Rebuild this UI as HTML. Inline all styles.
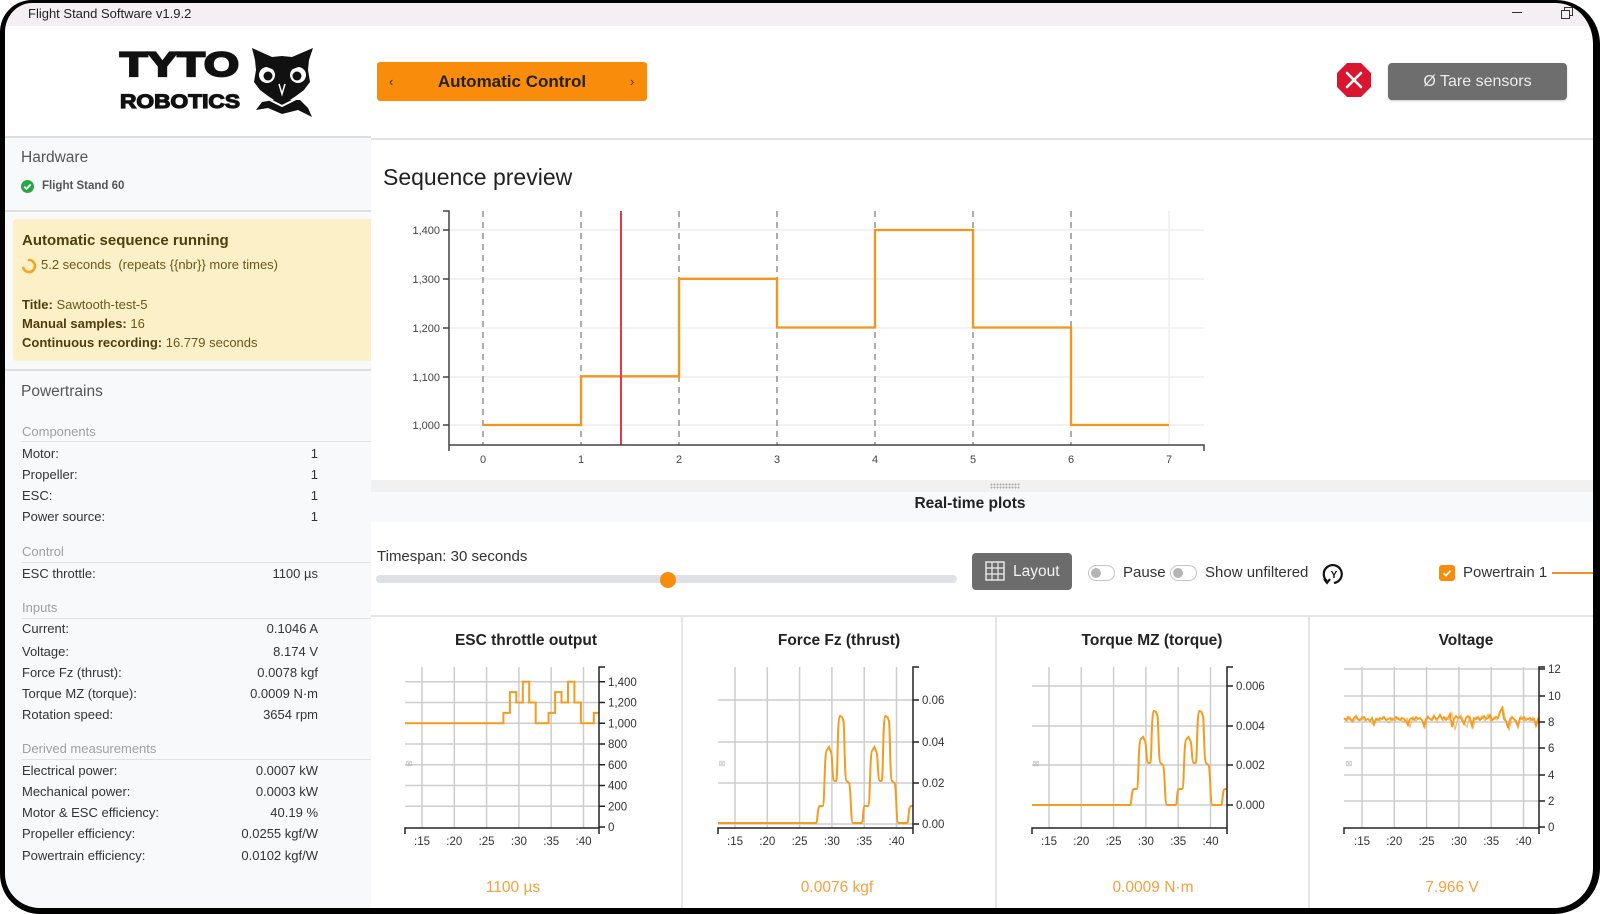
<!DOCTYPE html>
<html>
<head>
<meta charset="utf-8">
<style>
html,body{margin:0;padding:0;background:#fff;}
body{width:1600px;height:914px;overflow:hidden;position:relative;font-family:"Liberation Sans",sans-serif;color:#333;}
.a{position:absolute;white-space:nowrap;}
.t{position:absolute;white-space:nowrap;line-height:20px;height:20px;}
.lbl{left:22px;font-size:13px;color:#333;}
.val{left:180px;width:138px;text-align:right;font-size:13px;color:#333;}
.sub{left:22px;font-size:13px;color:#a0a0a0;}
.hl{position:absolute;left:21px;width:350px;height:1px;background:#e2e2e2;}
#frame{position:absolute;left:0;top:0;width:1600px;height:914px;box-sizing:border-box;border-style:solid;border-color:#000;border-width:3px 7px 6px 5px;border-radius:32px 44px 46px 40px;box-shadow:0 0 0 80px #fff;pointer-events:none;z-index:50;}
</style>
</head>
<body>

<!-- title bar -->
<div class="a" style="left:0;top:0;width:1600px;height:26px;background:#f5eff4;"></div>
<div class="a" style="left:28px;top:3px;line-height:22px;font-size:13px;color:#222;">Flight Stand Software v1.9.2</div>
<div class="a" style="left:1512px;top:12px;width:10px;height:1px;background:#333;"></div>
<div class="a" style="left:1564px;top:7px;width:7px;height:7px;border:1px solid #333;"></div>
<div class="a" style="left:1561px;top:10px;width:7px;height:7px;border:1px solid #333;background:#f5eff4;"></div>

<!-- logo -->
<svg class="a" style="left:0;top:26px;" width="371" height="111" viewBox="0 26 371 111">
  <text x="120" y="76" font-family="Liberation Sans" font-weight="bold" font-size="34" textLength="119" lengthAdjust="spacingAndGlyphs" fill="#111" stroke="#111" stroke-width="2.2">TYTO</text>
  <text x="120" y="108" font-family="Liberation Sans" font-weight="bold" font-size="19.5" textLength="120" lengthAdjust="spacingAndGlyphs" fill="#111" stroke="#111" stroke-width="1.2">ROBOTICS</text>
  <g transform="translate(252,48)">
    <polygon fill="#111" points="0,0 20,9 30,8 40,9 61,0 57,12 56,22 58,34 52,42 44,48 38,52 48,52 56,60 60,69 46,62 30,66 16,60 4,62 10,54 22,52 16,48 8,42 2,34 4,22 3,12"/>
    <circle cx="15" cy="27" r="8" fill="#fff"/>
    <circle cx="46" cy="27" r="8" fill="#fff"/>
    <circle cx="16" cy="28" r="4.5" fill="#111"/>
    <circle cx="45" cy="28" r="4.5" fill="#111"/>
    <polygon fill="#111" points="4,15 28,24 28,14"/>
    <polygon fill="#111" points="57,15 33,24 33,14"/>
    <path d="M27,36 L30,46 L33,36" stroke="#fff" stroke-width="1.5" fill="none"/>
    <path d="M14,50 L30,58 L46,50" stroke="#fff" stroke-width="2" fill="none"/>
  </g>
</svg>

<!-- header buttons -->
<div class="a" style="left:377px;top:62px;width:270px;height:39px;background:#f98c0b;border-radius:3px;"></div>
<div class="a" style="left:377px;top:62px;width:270px;line-height:39px;text-align:center;font-size:17px;font-weight:bold;color:#222;">Automatic Control</div>
<div class="a" style="left:389px;top:62px;line-height:39px;font-size:13px;color:#333;">‹</div>
<div class="a" style="left:630px;top:62px;line-height:39px;font-size:13px;color:#333;">›</div>

<svg class="a" style="left:1330px;top:56px;" width="50" height="50" viewBox="1330 56 50 50">
  <polygon fill="#d9152f" points="1371,73 1371,87 1361,97 1347,97 1337,87 1337,73 1347,63 1361,63"/>
  <path d="M1347,73 L1361,87 M1361,73 L1347,87" stroke="#fff" stroke-width="2.6" stroke-linecap="round"/>
</svg>
<div class="a" style="left:1388px;top:63px;width:179px;height:37px;background:#6e6e6e;border-radius:4px;box-shadow:0 1px 2px rgba(0,0,0,0.2);"></div>
<div class="a" style="left:1388px;top:63px;width:179px;line-height:37px;text-align:center;font-size:16px;color:#ececec;">Ø Tare sensors</div>

<!-- header separators -->
<div class="a" style="left:0;top:136px;width:371px;height:2px;background:#dedede;"></div>
<div class="a" style="left:371px;top:138px;width:1229px;height:2px;background:#e2e2e2;"></div>

<!-- sidebar -->
<div class="a" style="left:0;top:138px;width:371px;height:776px;background:#f8f9fa;"></div>
<div class="t" style="left:21px;top:148px;font-size:15.5px;color:#555;">Hardware</div>
<svg class="a" style="left:20px;top:179px;" width="15" height="15" viewBox="0 0 15 15">
  <circle cx="7.5" cy="7.5" r="6.5" fill="#28a745"/>
  <path d="M4.3,7.6 L6.6,9.8 L10.7,5.5" stroke="#fff" stroke-width="1.8" fill="none"/>
</svg>
<div class="t" style="left:42px;top:176px;font-size:11.5px;font-weight:bold;color:#555;">Flight Stand 60</div>
<div class="a" style="left:5px;top:210px;width:366px;height:2px;background:#dedede;"></div>

<div class="a" style="left:13px;top:219px;width:358px;height:142px;background:#fcf0c8;border-radius:4px 0 0 4px;"></div>
<div class="t" style="left:22px;top:226px;font-size:15px;font-weight:bold;color:#4f3e0d;line-height:30px;height:30px;">Automatic sequence running</div>
<svg class="a" style="left:21px;top:258px;" width="16" height="16" viewBox="0 0 16 16">
  <path d="M8,2 A6,6 0 1 1 2.3,10" stroke="#f5a51d" stroke-width="2.6" fill="none" stroke-linecap="round"/>
</svg>
<div class="t" style="left:41px;top:255px;font-size:13px;color:#6b5719;white-space:pre;">5.2 seconds  (repeats {{nbr}} more times)</div>
<div class="t" style="left:22px;top:295px;font-size:13px;color:#6b5719;"><b style="color:#4f3e0d">Title:</b> Sawtooth-test-5</div>
<div class="t" style="left:22px;top:314px;font-size:13px;color:#6b5719;"><b style="color:#4f3e0d">Manual samples:</b> 16</div>
<div class="t" style="left:22px;top:333px;font-size:13px;color:#6b5719;"><b style="color:#4f3e0d">Continuous recording:</b> 16.779 seconds</div>
<div class="a" style="left:5px;top:369px;width:366px;height:2px;background:#dedede;"></div>

<div class="t" style="left:21px;top:382px;font-size:15.5px;color:#555;">Powertrains</div>

<div class="t sub" style="top:422px;">Components</div>
<div class="hl" style="top:441px;"></div>
<div class="t lbl" style="top:444px;">Motor:</div><div class="t val" style="top:444px;">1</div>
<div class="t lbl" style="top:465px;">Propeller:</div><div class="t val" style="top:465px;">1</div>
<div class="t lbl" style="top:486px;">ESC:</div><div class="t val" style="top:486px;">1</div>
<div class="t lbl" style="top:507px;">Power source:</div><div class="t val" style="top:507px;">1</div>

<div class="t sub" style="top:542px;">Control</div>
<div class="hl" style="top:562px;"></div>
<div class="t lbl" style="top:564px;">ESC throttle:</div><div class="t val" style="top:564px;">1100 µs</div>

<div class="t sub" style="top:598px;">Inputs</div>
<div class="hl" style="top:618px;"></div>
<div class="t lbl" style="top:619px;">Current:</div><div class="t val" style="top:619px;">0.1046 A</div>
<div class="t lbl" style="top:642px;">Voltage:</div><div class="t val" style="top:642px;">8.174 V</div>
<div class="t lbl" style="top:663px;">Force Fz (thrust):</div><div class="t val" style="top:663px;">0.0078 kgf</div>
<div class="t lbl" style="top:684px;">Torque MZ (torque):</div><div class="t val" style="top:684px;">0.0009 N·m</div>
<div class="t lbl" style="top:705px;">Rotation speed:</div><div class="t val" style="top:705px;">3654 rpm</div>

<div class="t sub" style="top:739px;">Derived measurements</div>
<div class="hl" style="top:759px;"></div>
<div class="t lbl" style="top:761px;">Electrical power:</div><div class="t val" style="top:761px;">0.0007 kW</div>
<div class="t lbl" style="top:782px;">Mechanical power:</div><div class="t val" style="top:782px;">0.0003 kW</div>
<div class="t lbl" style="top:803px;">Motor &amp; ESC efficiency:</div><div class="t val" style="top:803px;">40.19 %</div>
<div class="t lbl" style="top:824px;">Propeller efficiency:</div><div class="t val" style="top:824px;">0.0255 kgf/W</div>
<div class="t lbl" style="top:846px;">Powertrain efficiency:</div><div class="t val" style="top:846px;">0.0102 kgf/W</div>

<!-- main -->
<div class="t" style="left:383px;top:162px;font-size:23px;color:#222;line-height:30px;height:30px;">Sequence preview</div>

<!-- real-time band -->
<div class="a" style="left:371px;top:480px;width:1229px;height:12px;background:#f1f1f1;"></div>
<div class="a" style="left:371px;top:492px;width:1229px;height:30px;background:#f8f9fa;"></div>
<div class="a" style="left:990px;top:483px;width:30px;height:6px;background-image:radial-gradient(circle,#aaa 0.9px,transparent 1.1px);background-size:3px 3px;"></div>
<div class="a" style="left:870px;top:494px;width:200px;line-height:20px;text-align:center;font-size:15.5px;font-weight:bold;color:#222;">Real-time plots</div>

<!-- controls row -->
<div class="t" style="left:377px;top:547px;font-size:15px;color:#333;">Timespan: 30 seconds</div>
<div class="a" style="left:376px;top:575px;width:581px;height:8px;background:#dee2e6;border-radius:4px;"></div>
<div class="a" style="left:660px;top:572px;width:16px;height:16px;background:#f98c0b;border-radius:50%;"></div>

<div class="a" style="left:972px;top:553px;width:100px;height:37px;background:#6c6c6c;border-radius:4px;"></div>
<svg class="a" style="left:985px;top:561px;" width="20" height="20" viewBox="0 0 20 20">
  <rect x="1" y="1" width="18" height="18" fill="none" stroke="#eee" stroke-width="1.4"/>
  <path d="M7,1V19M13,1V19M1,7H19M1,13H19" stroke="#eee" stroke-width="1.2"/>
</svg>
<div class="t" style="left:1013px;top:562px;font-size:15.5px;color:#f2f2f2;">Layout</div>

<div class="a" style="left:1088px;top:565px;width:25px;height:14px;border:1px solid #c4c4c4;border-radius:8px;background:#fff;"></div>
<div class="a" style="left:1091px;top:568px;width:10px;height:10px;border-radius:50%;background:#b5b5b5;"></div>
<div class="t" style="left:1123px;top:563px;font-size:15px;color:#333;">Pause</div>
<div class="a" style="left:1170px;top:565px;width:25px;height:14px;border:1px solid #c4c4c4;border-radius:8px;background:#fff;"></div>
<div class="a" style="left:1173px;top:568px;width:10px;height:10px;border-radius:50%;background:#b5b5b5;"></div>
<div class="t" style="left:1205px;top:563px;font-size:15px;color:#333;">Show unfiltered</div>
<svg class="a" style="left:1321px;top:561px;" width="26" height="26" viewBox="0 0 26 26">
  <path d="M6,20 A9,9 0 1 1 13,22" stroke="#111" stroke-width="2.2" fill="none"/>
  <path d="M3,18 L6,22 L9,18" stroke="#111" stroke-width="2" fill="none"/>
  <text x="13" y="17" text-anchor="middle" font-family="Liberation Sans" font-weight="bold" font-size="10" fill="#111">Y</text>
</svg>
<div class="a" style="left:1439px;top:565px;width:16px;height:16px;background:#f98c0b;border-radius:3px;"></div>
<svg class="a" style="left:1439px;top:565px;" width="16" height="16" viewBox="0 0 16 16"><path d="M4.5,8.2 L7,10.5 L11.5,5.8" stroke="#fff" stroke-width="1.8" fill="none"/></svg>
<div class="t" style="left:1463px;top:563px;font-size:15px;color:#333;">Powertrain 1</div>
<div class="a" style="left:1552px;top:572px;width:48px;height:2px;background:#f5911e;"></div>

<!-- panels frame -->
<div class="a" style="left:371px;top:615px;width:1229px;height:2px;background:#e6e6e6;"></div>
<div class="a" style="left:681px;top:617px;width:2px;height:297px;background:#e6e6e6;"></div>
<div class="a" style="left:995px;top:617px;width:2px;height:297px;background:#e6e6e6;"></div>
<div class="a" style="left:1308px;top:617px;width:2px;height:297px;background:#e6e6e6;"></div>

<!-- charts -->
<svg class="a" style="left:0;top:0;" width="1600" height="914" viewBox="0 0 1600 914" font-family="Liberation Sans">
  <!-- Sequence preview -->
  <g>
    <path d="M449,230H1204M449,279H1204M449,328H1204M449,377H1204M449,425H1204M1169,211V445" stroke="#eee" stroke-width="1.5" fill="none"/>
    <path d="M483,211V445M581,211V445M679,211V445M777,211V445M875,211V445M973,211V445M1071,211V445" stroke="#8a8a8a" stroke-width="1.4" stroke-dasharray="6 5" fill="none"/>
    <path d="M483,425H581V376.3H679V278.8H777V327.5H875V230H973V327.5H1071V425H1169" stroke="#f7941d" stroke-width="2.3" fill="none"/>
    <path d="M621,211V445" stroke="#e8374a" stroke-width="2"/>
    <path d="M443,211H449V445M449,451V445H1204V451M443,230H449M443,279H449M443,328H449M443,377H449M443,425H449" stroke="#444" stroke-width="1.5" fill="none"/>
    <g font-size="11" fill="#444" text-anchor="end">
      <text x="440" y="234">1,400</text>
      <text x="440" y="283">1,300</text>
      <text x="440" y="332">1,200</text>
      <text x="440" y="381">1,100</text>
      <text x="440" y="429">1,000</text>
    </g>
    <g font-size="11" fill="#444" text-anchor="middle">
      <text x="483" y="463">0</text><text x="581" y="463">1</text><text x="679" y="463">2</text><text x="777" y="463">3</text>
      <text x="875" y="463">4</text><text x="973" y="463">5</text><text x="1071" y="463">6</text><text x="1169" y="463">7</text>
    </g>
  </g>

  <!-- panel titles & values -->
  <g font-size="15.5" font-weight="bold" fill="#222" text-anchor="middle">
    <text x="526" y="645">ESC throttle output</text>
    <text x="839" y="645">Force Fz (thrust)</text>
    <text x="1152" y="645">Torque MZ (torque)</text>
    <text x="1466" y="645">Voltage</text>
  </g>
  <g font-size="15.5" fill="#f6a03e" text-anchor="middle">
    <text x="513" y="892">1100 µs</text>
    <text x="837" y="892">0.0076 kgf</text>
    <text x="1153" y="892">0.0009 N·m</text>
    <text x="1452" y="892">7.966 V</text>
  </g>

  <!-- ESC panel -->
  <g>
    <path d="M422,667V828M454.3,667V828M486.6,667V828M518.9,667V828M551.2,667V828M583.5,667V828M405,681.8H599M405,702.5H599M405,723.3H599M405,744H599M405,764.8H599M405,785.5H599M405,806.3H599" stroke="#cdcdcd" stroke-width="1.5" fill="none"/>
    <path d="M405,723.3H503.4V712.9H509.9V692.1H516.3V702.5H522.8V681.8H529.2V702.5H535.7V723.3H548.6V712.9H555.1V692.1H561.5V702.5H568V681.8H574.4V702.5H580.9V723.3H593.8V712.9H599" stroke="#f39c1f" stroke-width="2" fill="none"/>
    <path d="M405,834V828H599V834M605,667H599V828M599,681.8h6M599,702.5h6M599,723.3h6M599,744h6M599,764.8h6M599,785.5h6M599,806.3h6M599,827h6" stroke="#222" stroke-width="1.5" fill="none"/>
    <g font-size="11.5" fill="#333">
      <text x="608" y="686">1,400</text><text x="608" y="706.5">1,200</text><text x="608" y="727.5">1,000</text><text x="608" y="748">800</text>
      <text x="608" y="769">600</text><text x="608" y="789.5">400</text><text x="608" y="810.5">200</text><text x="608" y="831">0</text>
    </g>
    <g font-size="11.5" fill="#333" text-anchor="middle">
      <text x="422" y="845">:15</text><text x="454.3" y="845">:20</text><text x="486.6" y="845">:25</text><text x="518.9" y="845">:30</text><text x="551.2" y="845">:35</text><text x="583.5" y="845">:40</text>
    </g>
    <text x="409" y="766" font-size="8" fill="#bbb" text-anchor="middle">⊠</text>
  </g>

  <!-- Force panel -->
  <g>
    <path d="M735,667V828M767.3,667V828M799.6,667V828M831.9,667V828M864.2,667V828M896.5,667V828M718,700H913M718,742H913M718,783H913M718,824H913" stroke="#cdcdcd" stroke-width="1.5" fill="none"/>
    <path d="M718,823H816C818,823 817,806 820,806H822.5C825,806 824,751 827,750L829,747L831,752C832.5,754 832,781 834.5,781H836C838,781 837,717 840,716L842,717L843.5,721C844.5,725 844.5,780 846.5,781L849,783C851,785 850.5,823 853,823H861.6C863.5,823 862.5,806 865,806H868C870.5,806 869.5,751 872.5,750L874.5,747L876.5,752C878,754 877.5,781 880,781H881.5C883.5,781 882.5,717 885.5,716L887.5,717L889,721C890,725 890,780 892,781L894.5,783C896.5,785 896,823 898.5,823H907C909,823 908,806 911,806H913" stroke="#f39c1f" stroke-width="2" fill="none"/>
    <path d="M718,834V828H913V834M919,667H913V828M913,700h6M913,742h6M913,783h6M913,824h6" stroke="#222" stroke-width="1.5" fill="none"/>
    <g font-size="11.5" fill="#333">
      <text x="922" y="704">0.06</text><text x="922" y="746">0.04</text><text x="922" y="787">0.02</text><text x="922" y="828">0.00</text>
    </g>
    <g font-size="11.5" fill="#333" text-anchor="middle">
      <text x="735" y="845">:15</text><text x="767.3" y="845">:20</text><text x="799.6" y="845">:25</text><text x="831.9" y="845">:30</text><text x="864.2" y="845">:35</text><text x="896.5" y="845">:40</text>
    </g>
    <text x="722" y="766" font-size="8" fill="#bbb" text-anchor="middle">⊠</text>
  </g>

  <!-- Torque panel -->
  <g>
    <path d="M1049,667V828M1081.3,667V828M1113.6,667V828M1145.9,667V828M1178.2,667V828M1210.5,667V828M1032,686H1227M1032,726H1227M1032,765H1227M1032,805H1227" stroke="#cdcdcd" stroke-width="1.5" fill="none"/>
    <path d="M1032,805H1130C1132,805 1131,789 1134,789H1136.5C1139,789 1138,740 1141,739L1143,737L1145,741C1146.5,743 1146,763 1148.5,763H1150C1152,763 1151,712 1154,711L1156,712L1157.5,716C1158.5,720 1158.5,762 1160.5,763L1163,765C1165,767 1164.5,805 1167,805H1175.6C1177.5,805 1176.5,789 1179,789H1182C1184.5,789 1183.5,740 1186.5,739L1188.5,737L1190.5,741C1192,743 1191.5,763 1194,763H1195.5C1197.5,763 1196.5,712 1199.5,711L1201.5,712L1203,716C1204,720 1204,762 1206,763L1208.5,765C1210.5,767 1210,805 1212.5,805H1221C1223,805 1222,789 1225,789H1227" stroke="#f39c1f" stroke-width="2" fill="none"/>
    <path d="M1032,834V828H1227V834M1233,667H1227V828M1227,686h6M1227,726h6M1227,765h6M1227,805h6" stroke="#222" stroke-width="1.5" fill="none"/>
    <g font-size="11.5" fill="#333">
      <text x="1236" y="690">0.006</text><text x="1236" y="730">0.004</text><text x="1236" y="769">0.002</text><text x="1236" y="809">0.000</text>
    </g>
    <g font-size="11.5" fill="#333" text-anchor="middle">
      <text x="1049" y="845">:15</text><text x="1081.3" y="845">:20</text><text x="1113.6" y="845">:25</text><text x="1145.9" y="845">:30</text><text x="1178.2" y="845">:35</text><text x="1210.5" y="845">:40</text>
    </g>
    <text x="1036" y="766" font-size="8" fill="#bbb" text-anchor="middle">⊠</text>
  </g>

  <!-- Voltage panel -->
  <g>
    <path d="M1362,667V828M1394.3,667V828M1426.6,667V828M1458.9,667V828M1491.2,667V828M1523.5,667V828M1344,669H1539M1344,696H1539M1344,722H1539M1344,748H1539M1344,775H1539M1344,801H1539" stroke="#cdcdcd" stroke-width="1.5" fill="none"/>
    <polyline fill="none" stroke="#f7a33a" stroke-width="1.2" opacity="0.7" points="1344,719 1347,721 1350,717 1353,722 1356,718 1359,721 1362,717 1365,721 1368,719 1371,722 1374,726 1377,718 1380,721 1383,717 1386,720 1389,723 1392,718 1395,721 1398,717 1401,720 1404,722 1407,718 1410,727 1413,717 1416,721 1419,718 1422,720 1425,728 1428,716 1431,720 1434,715 1437,722 1440,714 1443,721 1446,717 1449,720 1452,713 1455,730 1458,718 1461,715 1464,722 1467,727 1470,716 1473,728 1476,717 1479,720 1482,716 1485,721 1488,714 1491,722 1494,717 1497,720 1500,711 1503,707 1506,722 1509,730 1512,717 1515,721 1518,728 1521,716 1524,721 1527,718 1530,721 1533,717 1536,727 1539,719"/>
    <polyline fill="none" stroke="#f39c1f" stroke-width="1.8" points="1344,718 1346,720 1348,717 1350,719 1352,721 1354,718 1356,716 1358,719 1360,720 1362,718 1364,717 1366,720 1368,719 1370,721 1372,718 1374,724 1376,719 1378,720 1380,718 1382,719 1384,717 1386,720 1388,719 1390,718 1392,720 1394,719 1396,717 1398,719 1400,720 1402,718 1404,719 1406,721 1408,725 1410,719 1412,718 1414,720 1416,717 1418,719 1420,718 1422,720 1424,726 1426,719 1428,717 1430,719 1432,720 1434,716 1436,719 1438,718 1440,715 1442,719 1444,717 1446,720 1448,718 1450,714 1452,727 1454,719 1456,716 1458,718 1460,717 1462,720 1464,724 1466,718 1468,716 1470,719 1472,726 1474,718 1476,719 1478,717 1480,720 1482,718 1484,716 1486,719 1488,718 1490,715 1492,720 1494,719 1496,717 1498,718 1500,712 1502,708 1504,719 1506,721 1508,728 1510,719 1512,717 1514,719 1516,721 1518,726 1520,718 1522,719 1524,717 1526,720 1528,719 1530,718 1532,720 1534,719 1536,725 1538,719 1539,720"/>
    <path d="M1344,834V828H1539V834M1545,667H1539V828M1539,669h6M1539,696h6M1539,722h6M1539,748h6M1539,775h6M1539,801h6M1539,827h6" stroke="#222" stroke-width="1.5" fill="none"/>
    <g font-size="11.5" fill="#333">
      <text x="1548" y="673">12</text><text x="1548" y="700">10</text><text x="1548" y="726">8</text><text x="1548" y="752">6</text>
      <text x="1548" y="779">4</text><text x="1548" y="805">2</text><text x="1548" y="831">0</text>
    </g>
    <g font-size="11.5" fill="#333" text-anchor="middle">
      <text x="1362" y="845">:15</text><text x="1394.3" y="845">:20</text><text x="1426.6" y="845">:25</text><text x="1458.9" y="845">:30</text><text x="1491.2" y="845">:35</text><text x="1523.5" y="845">:40</text>
    </g>
    <text x="1349" y="766" font-size="8" fill="#bbb" text-anchor="middle">⊠</text>
  </g>
</svg>

<div id="frame"></div>
</body>
</html>
